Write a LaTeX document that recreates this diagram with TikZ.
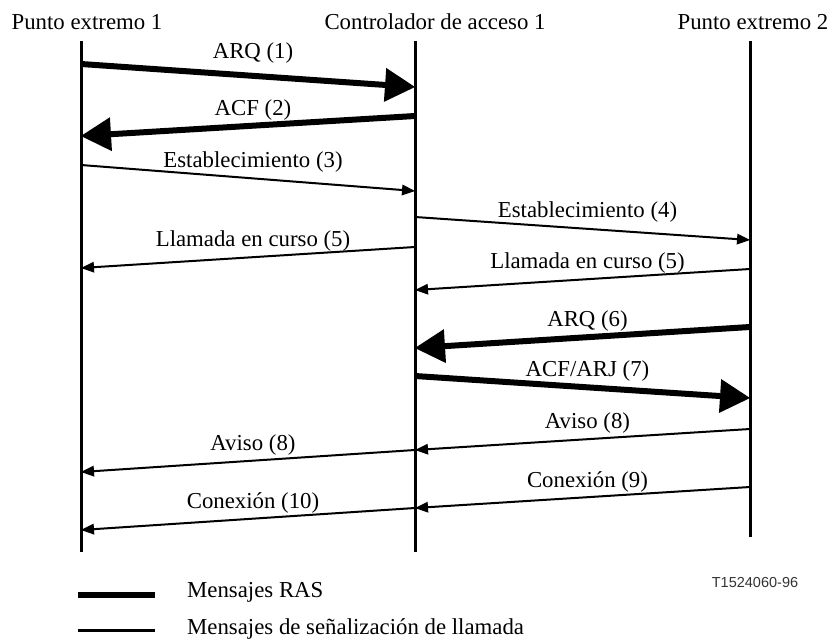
\documentclass[tikz,border=0pt]{standalone}
\usepackage{fontspec}
\setmainfont{Liberation Serif}
\newfontfamily\refsans{Liberation Sans}
\usetikzlibrary{arrows.meta}

\begin{document}
\begin{tikzpicture}[
  x=1pt, y=-1pt,
  txt/.style={font=\fontsize{22.8}{27}\selectfont, inner sep=0pt},
  head/.style={txt},
  lifeline/.style={line width=3pt},
  rasmsg/.style={line width=6pt,
    -{Triangle[length=30pt,width=34pt,line width=0pt]}},
  callmsg/.style={line width=2pt,
    -{Triangle[length=13pt,width=11pt,line width=0pt]}},
  lbl/.style={txt, midway, xshift=5pt, yshift=16pt},
]
\useasboundingbox (0,0) rectangle (832,644);

% headings of the three lifelines
\node[head] (h1) at (87,22)  {Punto extremo 1};
\node[head] (h2) at (435,22) {Controlador de acceso 1};
\node[head] (h3) at (753,22) {Punto extremo 2};

% lifelines
\coordinate (ep1top) at (81,41);  \coordinate (ep1bot) at (81,552);
\coordinate (gktop)  at (415,41); \coordinate (gkbot)  at (415,552);
\coordinate (ep2top) at (750,41); \coordinate (ep2bot) at (750,537);
\draw[lifeline] (ep1top) -- (ep1bot);
\draw[lifeline] (gktop) -- (gkbot);
\draw[lifeline] (ep2top) -- (ep2bot);

% message end points
\coordinate (m1s)  at (81,64);   \coordinate (m1e)  at (415,87);
\coordinate (m2s)  at (415,116); \coordinate (m2e)  at (81,136);
\coordinate (m3s)  at (81,165);  \coordinate (m3e)  at (415,191);
\coordinate (m4s)  at (415,217); \coordinate (m4e)  at (750,240);
\coordinate (m5s)  at (415,247); \coordinate (m5e)  at (81,268);
\coordinate (m6s)  at (750,269); \coordinate (m6e)  at (415,290);
\coordinate (m7s)  at (750,327); \coordinate (m7e)  at (415,348);
\coordinate (m8s)  at (415,376); \coordinate (m8e)  at (750,398);
\coordinate (m9s)  at (750,429); \coordinate (m9e)  at (415,450);
\coordinate (m10s) at (415,450); \coordinate (m10e) at (81,472);
\coordinate (m11s) at (750,487); \coordinate (m11e) at (415,508);
\coordinate (m12s) at (415,508); \coordinate (m12e) at (81,530);

% messages
\draw[rasmsg]  (m1s)  -- node[lbl, yshift=6pt] (l1) {ARQ (1)} (m1e);
\draw[rasmsg]  (m2s)  -- node[lbl] (l2)  {ACF (2)} (m2e);
\draw[callmsg] (m3s)  -- node[lbl] (l3)  {Establecimiento (3)} (m3e);
\draw[callmsg] (m4s)  -- node[lbl] (l4)  {Establecimiento (4)} (m4e);
\draw[callmsg] (m5s)  -- node[lbl] (l5)  {Llamada en curso (5)} (m5e);
\draw[callmsg] (m6s)  -- node[lbl] (l6)  {Llamada en curso (5)} (m6e);
\draw[rasmsg]  (m7s)  -- node[lbl] (l7)  {ARQ (6)} (m7e);
\draw[rasmsg]  (m8s)  -- node[lbl] (l8)  {ACF/ARJ (7)} (m8e);
\draw[callmsg] (m9s)  -- node[lbl] (l9)  {Aviso (8)} (m9e);
\draw[callmsg] (m10s) -- node[lbl] (l10) {Aviso (8)} (m10e);
\draw[callmsg] (m11s) -- node[lbl] (l11) {Conexión (9)} (m11e);
\draw[callmsg] (m12s) -- node[lbl] (l12) {Conexión (10)} (m12e);

% figure reference
\node[inner sep=0pt, font=\refsans\fontsize{14.5}{17}\selectfont, text=black!80]
  (ref) at (755,583) {T1524060-96};

% legend
\coordinate (k1a) at (78,595); \coordinate (k1b) at (155,595);
\coordinate (k2a) at (78,630); \coordinate (k2b) at (155,630);
\draw[line width=5.5pt] (k1a) -- (k1b);
\draw[line width=3pt] (k2a) -- (k2b);
\node[txt, anchor=west] (k1t) at (187,592) {Mensajes RAS};
\node[txt, anchor=west] (k2t) at (187,629) {Mensajes de señalización de llamada};
\end{tikzpicture}
\end{document}
